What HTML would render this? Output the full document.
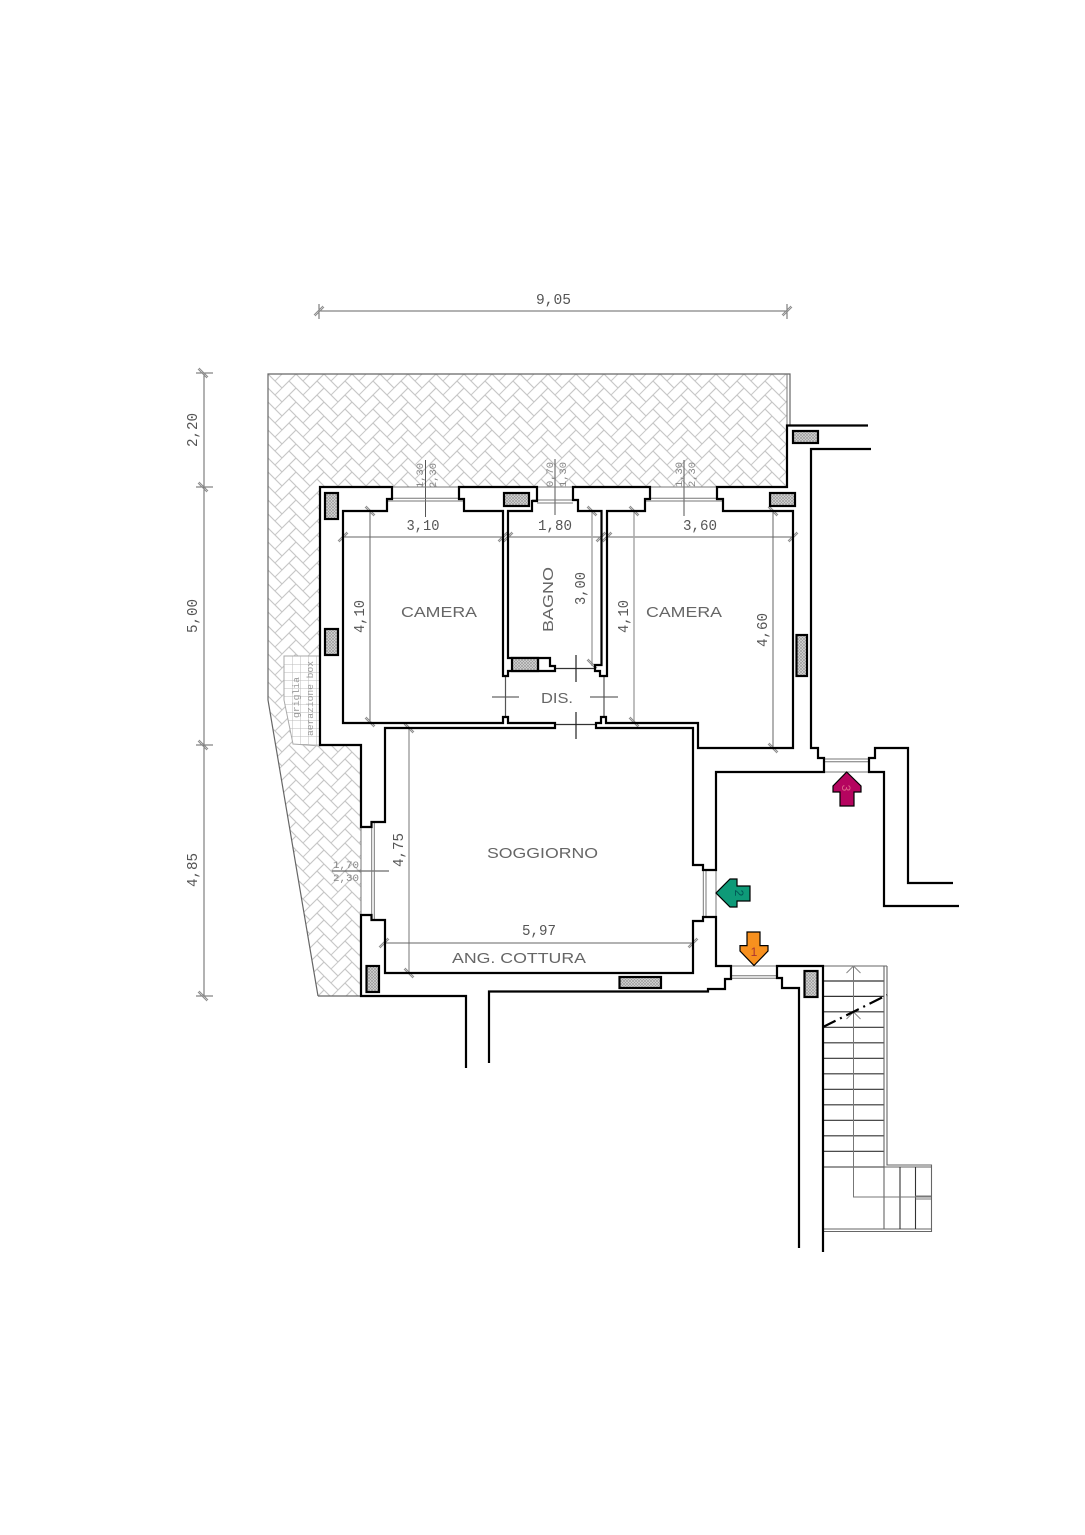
<!DOCTYPE html>
<html>
<head>
<meta charset="utf-8">
<style>
html,body{margin:0;padding:0;background:#fff}
svg{display:block}
.d{font-family:"Liberation Mono",monospace;font-size:15px;fill:#555}
.s{font-family:"Liberation Mono",monospace;font-size:10.5px;fill:#888}
.l{font-family:"Liberation Sans",sans-serif;font-size:15px;fill:#666}
</style>
</head>
<body>
<svg width="1085" height="1535" viewBox="0 0 1085 1535" xmlns="http://www.w3.org/2000/svg">
<defs>
<g id="hb" fill="none" stroke="#c8c8c8" stroke-width="1">
<path d="M0,0L14,14M-7,7L7,21M0,0L-7,7M14,14L7,21M21,7L7,21M28,14L14,28M21,7L28,14M7,21L14,28"/>
</g>
<pattern id="herr" patternUnits="userSpaceOnUse" width="28" height="14" patternTransform="translate(268 374)">
<use href="#hb"/><use href="#hb" y="-14"/><use href="#hb" y="-28"/>
<use href="#hb" x="28"/><use href="#hb" x="28" y="-14"/><use href="#hb" x="28" y="-28"/>
</pattern>
<pattern id="xh" patternUnits="userSpaceOnUse" width="3" height="3">
<rect width="3" height="3" fill="#dcdcdc"/>
<path d="M0,0L3,3M3,0L0,3" stroke="#9a9a9a" stroke-width=".7"/>
</pattern>
<pattern id="grid" patternUnits="userSpaceOnUse" width="8" height="8" patternTransform="translate(284 656)">
<path d="M0,0H8M0,0V8" stroke="#bbb" stroke-width="1" fill="none"/>
</pattern>
<g id="tu" stroke="#8a8a8a" stroke-width="1" fill="none"><path d="M-5,4L4,-5M-4,5L5,-4"/></g>
<g id="td" stroke="#8a8a8a" stroke-width="1" fill="none"><path d="M-5,-4L4,5M-4,-5L5,4"/></g>
</defs>
<rect width="1085" height="1535" fill="#fff"/>

<!-- terrace -->
<path d="M268,374L787,374L787,487L320,487L320,745L361,745L361,996L318,996L268,700Z" fill="url(#herr)"/>
<path d="M318,996L268,700L268,374L790,374L790,426" fill="none" stroke="#666" stroke-width="1.2"/>
<path d="M787,374V426" stroke="#777" stroke-width="1"/>
<path d="M318,996H361" stroke="#666" stroke-width="1.2"/>

<!-- grid patch -->
<path d="M284,656L320,656L320,746L293,744L284,700Z" fill="#fff"/>
<path d="M284,656L320,656L320,746L293,744L284,700Z" fill="url(#grid)" stroke="#aaa" stroke-width="1"/>
<text transform="translate(299 718) rotate(-90)" class="s" style="font-size:9px;fill:#999" textLength="41" lengthAdjust="spacingAndGlyphs">griglia</text>
<text transform="translate(313 736) rotate(-90)" class="s" style="font-size:9px;fill:#999" textLength="75" lengthAdjust="spacingAndGlyphs">aerazione box</text>

<!-- dimension lines -->
<g stroke="#666" stroke-width="1" fill="none">
<path d="M319,311H787"/>
<path d="M204,374V996"/>
<path d="M196,373H213M196,487H213M196,745H213M196,996H213"/>
<path d="M319,304V319M787,304V319"/>
<path d="M343,537H503M508,537H601M607,537H793"/>
<path d="M370,511V722"/>
<path d="M592,511V666" stroke="#aaa" stroke-width="1.5"/>
<path d="M634,511V722" stroke="#aaa" stroke-width="1.5"/>
<path d="M773,511V748"/>
<path d="M409,728V973" stroke="#bbb" stroke-width="2"/>
<path d="M384,943H693"/>
<path d="M425.5,460V517M555,459V515M684,460V516" stroke="#555"/>
<path d="M332,871H389" stroke="#444"/>
<path d="M492,697H519M590,697H618" stroke="#666" stroke-width="1.2"/>
<path d="M505.5,676V717M604,676V717" stroke="#555" stroke-width="1.2"/>
<path d="M555,668.5H596M555,724.5H596" stroke="#333" stroke-width="1.2"/>
<path d="M576,655V682M576,712V739" stroke="#222" stroke-width="1.2"/>
</g>
<g>
<use href="#tu" x="319" y="311"/><use href="#tu" x="787" y="311"/>
<use href="#td" x="203" y="373"/><use href="#td" x="203" y="487"/><use href="#td" x="203" y="745"/><use href="#td" x="203" y="996"/>
<use href="#tu" x="343" y="537"/><use href="#tu" x="503" y="537"/><use href="#tu" x="508" y="537"/><use href="#tu" x="601" y="537"/><use href="#tu" x="607" y="537"/><use href="#tu" x="793" y="537"/>
<use href="#td" x="370" y="511"/><use href="#td" x="370" y="722"/>
<use href="#td" x="592" y="511"/><use href="#td" x="592" y="664"/>
<use href="#td" x="634" y="511"/><use href="#td" x="634" y="722"/>
<use href="#td" x="773" y="511"/><use href="#td" x="773" y="748"/>
<use href="#td" x="409" y="728"/><use href="#td" x="409" y="973"/>
<use href="#tu" x="384" y="943"/><use href="#tu" x="693" y="943"/>
</g>

<!-- window thin lines -->
<g stroke="#777" stroke-width="1" fill="none">
<path d="M392,487H459M392,498.300H459M387,501H464"/>
<path d="M537,487H573M532,500H578M537,503H573"/>
<path d="M650,487H717M650,498.300H717M645,501H723"/>
<path d="M361,827V915M371.700,827V915M374.300,822V920"/>
<path d="M716,870V917M703.300,870V917M706,870V917"/>
<path d="M824,759H869M824,761.700H869M824,772H869"/>
<path d="M731,966H777M731,975.700H777M731,978.300H777"/>
</g>

<!-- stairs -->
<g fill="none">
<path d="M823,981H884M823,996.400H884M823,1011.800H884M823,1027.300H884M823,1042.800H884M823,1058.300H884M823,1073.800H884M823,1089.300H884M823,1104.800H884M823,1120.300H884M823,1135.800H884M823,1151.300H884M823,1167H884" stroke="#333" stroke-width="1.2"/>
<path d="M823,966H887M884,966V1229M887,966V1165H931.500V1231.500H823M823,1229H931.500M823,1167H931.500" stroke="#666" stroke-width="1.1"/>
<path d="M900,1167V1229M915.500,1167V1229" stroke="#333" stroke-width="1.1"/>
<path d="M853.500,966V1197H931M915.500,1196H931M915.500,1199H931" stroke="#777" stroke-width="1"/>
<path d="M846.500,973L853.500,966L860.500,973M846.500,1019L853.500,1012L860.500,1019" stroke="#888" stroke-width="1"/>
<path d="M823,1027L887,995" stroke="#000" stroke-width="2.200" stroke-dasharray="14 5 2 5"/>
</g>

<!-- walls -->
<g fill="none" stroke="#000" stroke-width="2.200" stroke-linejoin="miter">
<path d="M392,487L320,487L320,745L361,745L361,827L371.500,827L371.500,822L385,822L385,728L555,728L555,723L508,723L508,717L503,717L503,723L343,723L343,511L387,511L387,499L392,499Z"/>
<path d="M459,487L537,487L537,501L532,501L532,511L508,511L508,658L550,658L550,666L555,666L555,671L508,671L508,676L503,676L503,511L464,511L464,499L459,499Z"/>
<path d="M573,487L650,487L650,499L645,499L645,511L607,511L607,676L600,676L600,671L595,671L595,665L601.500,665L601.500,511L578,511L578,500L573,500Z"/>
<path d="M868,425.500L787,425.500L787,487L717,487L717,499L723,499L723,511L793,511L793,748L698,748L698,723L606,723L606,717L601,717L601,723L596,723L596,728L693,728L693,865L703,865L703,870L716,870L716,772L824,772L824,758L818,758L818,748L811,748L811,449L871,449"/>
<path d="M466,1068L466,996L361,996L361,915L371.500,915L371.500,920L385,920L385,973L693,973L693,921L703,921L703,917L716,917L716,966L731,966L731,979L725,979L725,989L708,989L708,991.500L489,991.500L489,1063"/>
<path d="M799,1248L799,988L782,988L782,978L777,978L777,966L823,966L823,1252"/>
<path d="M953,883L908,883L908,748L875,748L875,758L869,758L869,772L884,772L884,906L959,906"/>
<path d="M538,658V671"/>
</g>

<!-- hatched pillars -->
<g fill="url(#xh)" stroke="#000" stroke-width="2.200">
<rect x="325" y="493" width="13" height="26"/>
<rect x="325" y="629" width="13" height="26"/>
<rect x="504" y="493" width="25" height="13"/>
<rect x="770" y="493" width="25" height="13"/>
<rect x="793" y="431" width="25" height="12"/>
<rect x="796.500" y="635" width="10.500" height="41"/>
<rect x="512" y="658" width="26" height="13"/>
<rect x="366.500" y="966" width="12.500" height="26"/>
<rect x="619.500" y="977" width="41.500" height="11"/>
<rect x="804.500" y="971" width="13" height="26"/>
</g>

<!-- dimension text -->
<text class="d" x="536" y="304" textLength="35" lengthAdjust="spacingAndGlyphs">9,05</text>
<text class="d" x="406.500" y="530" textLength="33" lengthAdjust="spacingAndGlyphs">3,10</text>
<text class="d" x="538" y="530" textLength="34" lengthAdjust="spacingAndGlyphs">1,80</text>
<text class="d" x="683" y="530" textLength="34" lengthAdjust="spacingAndGlyphs">3,60</text>
<text class="d" x="522" y="935" textLength="34" lengthAdjust="spacingAndGlyphs">5,97</text>
<text class="d" transform="translate(197 447) rotate(-90)" textLength="34" lengthAdjust="spacingAndGlyphs">2,20</text>
<text class="d" transform="translate(197 633) rotate(-90)" textLength="34" lengthAdjust="spacingAndGlyphs">5,00</text>
<text class="d" transform="translate(197 887) rotate(-90)" textLength="34" lengthAdjust="spacingAndGlyphs">4,85</text>
<text class="d" transform="translate(364 633) rotate(-90)" textLength="33" lengthAdjust="spacingAndGlyphs">4,10</text>
<text class="d" transform="translate(585 605) rotate(-90)" textLength="33" lengthAdjust="spacingAndGlyphs">3,00</text>
<text class="d" transform="translate(628 633) rotate(-90)" textLength="33" lengthAdjust="spacingAndGlyphs">4,10</text>
<text class="d" transform="translate(767 647) rotate(-90)" textLength="34" lengthAdjust="spacingAndGlyphs">4,60</text>
<text class="d" transform="translate(403 867) rotate(-90)" textLength="34" lengthAdjust="spacingAndGlyphs">4,75</text>
<text class="s" transform="translate(423 488) rotate(-90)" textLength="25" lengthAdjust="spacingAndGlyphs">1,30</text>
<text class="s" transform="translate(436 488) rotate(-90)" textLength="25" lengthAdjust="spacingAndGlyphs">2,30</text>
<text class="s" transform="translate(553 487) rotate(-90)" textLength="25" lengthAdjust="spacingAndGlyphs">0,70</text>
<text class="s" transform="translate(566 487) rotate(-90)" textLength="25" lengthAdjust="spacingAndGlyphs">1,30</text>
<text class="s" transform="translate(682 487) rotate(-90)" textLength="25" lengthAdjust="spacingAndGlyphs">1,30</text>
<text class="s" transform="translate(695 487) rotate(-90)" textLength="25" lengthAdjust="spacingAndGlyphs">2,30</text>
<text class="s" x="333" y="868" textLength="26" lengthAdjust="spacingAndGlyphs">1,70</text>
<text class="s" x="333" y="881" textLength="26" lengthAdjust="spacingAndGlyphs">2,30</text>

<!-- room labels -->
<text class="l" x="401" y="617" textLength="76" lengthAdjust="spacingAndGlyphs">CAMERA</text>
<text class="l" x="646" y="617" textLength="76" lengthAdjust="spacingAndGlyphs">CAMERA</text>
<text class="l" transform="translate(553 632) rotate(-90)" textLength="65" lengthAdjust="spacingAndGlyphs">BAGNO</text>
<text class="l" x="487" y="858" textLength="111" lengthAdjust="spacingAndGlyphs">SOGGIORNO</text>
<text class="l" x="452" y="963" textLength="134" lengthAdjust="spacingAndGlyphs">ANG. COTTURA</text>
<text class="l" x="541" y="703" textLength="32" lengthAdjust="spacingAndGlyphs">DIS.</text>

<!-- arrows -->
<polygon points="747,932 760,932 760,945.600 768,945.600 768,951 754,965.500 740,951 740,945.600 747,945.600" fill="#f7901e" stroke="#000" stroke-width="1.200"/>
<text x="754" y="956" text-anchor="middle" style="font-family:'Liberation Sans',sans-serif;font-size:12px;fill:#a33">1</text>
<polygon points="716,893 730,879 737,879 737,886 750,886 750,901 737,901 737,907 730,907" fill="#0e9a78" stroke="#000" stroke-width="1.200"/>
<text transform="translate(735 893) rotate(90)" text-anchor="middle" style="font-family:'Liberation Sans',sans-serif;font-size:12px;fill:#055">2</text>
<polygon points="846.700,772 861,786 861,792 854,792 854,806 840,806 840,792 833,792 833,786" fill="#b5045f" stroke="#000" stroke-width="1.200"/>
<text transform="translate(842 788) rotate(90)" text-anchor="middle" style="font-family:'Liberation Sans',sans-serif;font-size:12px;fill:#d68">3</text>
</svg>
</body>
</html>
